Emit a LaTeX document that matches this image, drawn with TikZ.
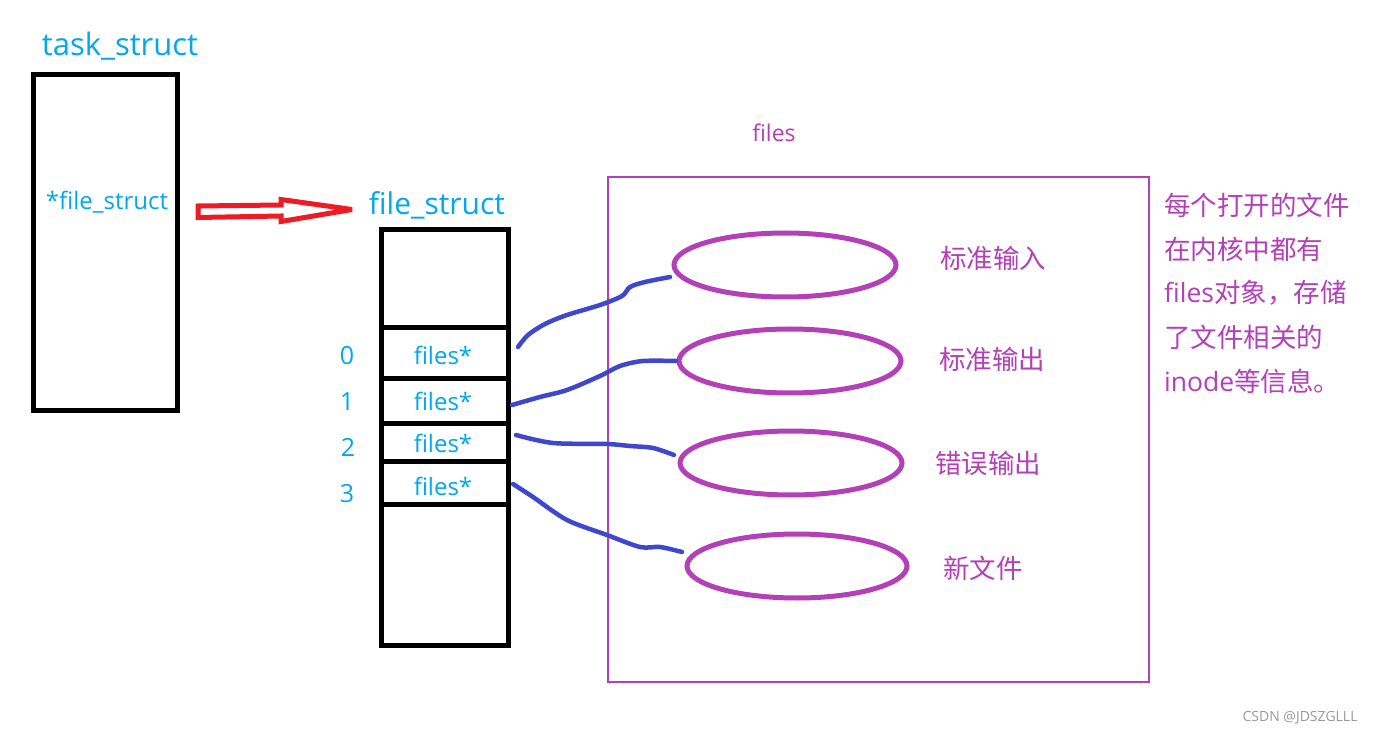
\documentclass[tikz,border=0pt]{standalone}
\usepackage{fontspec}
\setmainfont{Open Sans}
\newfontfamily\cjk{Noto Sans CJK SC}
\usetikzlibrary{shapes.geometric}
\definecolor{cyantxt}{HTML}{00A8EC}
\definecolor{purp}{HTML}{B440B8}
\definecolor{wire}{HTML}{3F48CC}
\definecolor{redarrow}{HTML}{ED1C24}
\tikzset{
  blackbox/.style={draw=black, line width=5pt, rectangle, inner sep=0pt, outer sep=0pt},
  cell/.style={blackbox, minimum width=127pt},
  fileobj/.style={draw=purp, line width=5pt, ellipse, minimum width=222pt, minimum height=64pt, inner sep=0pt},
  bluetxt/.style={text=cyantxt, inner sep=0pt},
  purptxt/.style={text=purp, inner sep=0pt},
  wirestyle/.style={draw=wire, line width=4.5pt, line cap=round, line join=round},
}
\begin{document}
\begin{tikzpicture}[x=1pt,y=-1pt]
\path[use as bounding box, fill=white] (0,0) rectangle (1374,735);

% task_struct
\node[bluetxt, font=\fontsize{31}{36}\selectfont] (tasklbl) at (120,46) {task\_struct};
\node[blackbox, minimum width=144pt, minimum height=335pt] (task) at (105,242.5) {};
\node[bluetxt, font=\fontsize{24}{28}\selectfont] (fsptr) at (107,202) {*file\_struct};

% red hollow arrow
\coordinate (ra) at (198,211);
\coordinate (rb) at (352,209.5);
\draw[redarrow, line width=5pt, line join=miter, miter limit=3, fill=white]
  (198,206) -- (281,205) -- (281,199.5) -- (rb) -- (281,221.5) -- (281,216) -- (198,217.5) -- cycle;

% file_struct column
\node[bluetxt, font=\fontsize{30}{34}\selectfont] (fslbl) at (437,205) {file\_struct};
\node[cell, minimum height=98pt] (ctop) at (444.5,279) {};
\node[cell, minimum height=51pt] (r0) at (444.5,353.5) {};
\node[cell, minimum height=44pt] (r1) at (444.5,401) {};
\node[cell, minimum height=38pt] (r2) at (444.5,442) {};
\node[cell, minimum height=43pt] (r3) at (444.5,482.5) {};
\node[cell, minimum height=141pt] (cbot) at (444.5,574.5) {};
\foreach \n/\y in {r0/355,r1/401,r2/443,r3/486}{
  \node[bluetxt, font=\fontsize{24}{28}\selectfont] at (443,\y) {files*};
}
\node[bluetxt, font=\fontsize{25}{28}\selectfont] (i0) at (347,356) {0};
\node[bluetxt, font=\fontsize{25}{28}\selectfont] (i1) at (347,402) {1};
\node[bluetxt, font=\fontsize{25}{28}\selectfont] (i2) at (348,447) {2};
\node[bluetxt, font=\fontsize{25}{28}\selectfont] (i3) at (347,494) {3};

% files region
\node[purptxt, font=\fontsize{23}{27}\selectfont] (fileslbl) at (774,133) {files};
\node[draw=purp, line width=2.5pt, rectangle, minimum width=541pt, minimum height=505pt, inner sep=0pt] (filesbox) at (878.5,429.5) {};

\node[fileobj] (e0) at (785,265) {};
\node[fileobj] (e1) at (790,361) {};
\node[fileobj] (e2) at (791,463) {};
\node[fileobj, minimum width=220pt] (e3) at (797,566) {};

\node[purptxt, font=\cjk\fontsize{26.5}{30}\selectfont] (l0) at (993,258) {标准输入};
\node[purptxt, font=\cjk\fontsize{26.5}{30}\selectfont] (l1) at (992,359) {标准输出};
\node[purptxt, font=\cjk\fontsize{26.5}{30}\selectfont] (l2) at (988,463) {错误输出};
\node[purptxt, font=\cjk\fontsize{26.5}{30}\selectfont] (l3) at (983,568) {新文件};

% note
\node[purptxt, anchor=west, font=\cjk\fontsize{26.5}{30}\selectfont] (n1) at (1164,205) {每个打开的文件};
\node[purptxt, anchor=west, font=\cjk\fontsize{26.5}{30}\selectfont] (n2) at (1164,249) {在内核中都有};
\node[purptxt, anchor=west, font=\fontsize{26.5}{30}\selectfont] (n3) at (1164,293) {files{\cjk 对象，存储}};
\node[purptxt, anchor=west, font=\cjk\fontsize{26.5}{30}\selectfont] (n4) at (1164,337) {了文件相关的};
\node[purptxt, anchor=west, font=\fontsize{26.5}{30}\selectfont] (n5) at (1164,381) {inode{\cjk 等信息。}};

% watermark
\node[text=black!40, font=\fontsize{14}{16}\selectfont, inner sep=0pt] (wm) at (1300,718) {CSDN @JDSZGLLL};

% blue wires
\coordinate (w0s) at (518,347); \coordinate (w0e) at (670,277);
\coordinate (w1s) at (512,405); \coordinate (w1e) at (676,361);
\coordinate (w2s) at (516,435); \coordinate (w2e) at (674,455);
\coordinate (w3s) at (513,484); \coordinate (w3e) at (682,552);
\draw[wirestyle] plot[smooth, tension=0.5] coordinates {(w0s) (528,335) (545,324) (567,315) (600,305) (622,296) (630,287) (645,282) (w0e)};
\draw[wirestyle] plot[smooth, tension=0.5] coordinates {(w1s) (540,397) (567,390) (600,376) (620,366) (643,361) (w1e)};
\draw[wirestyle] plot[smooth, tension=0.5] coordinates {(w2s) (553,443) (607,444) (630,446) (653,448) (w2e)};
\draw[wirestyle] plot[smooth, tension=0.5] coordinates {(w3s) (533,497) (567,520) (607,535) (640,547) (660,547) (w3e)};
\end{tikzpicture}
\end{document}
